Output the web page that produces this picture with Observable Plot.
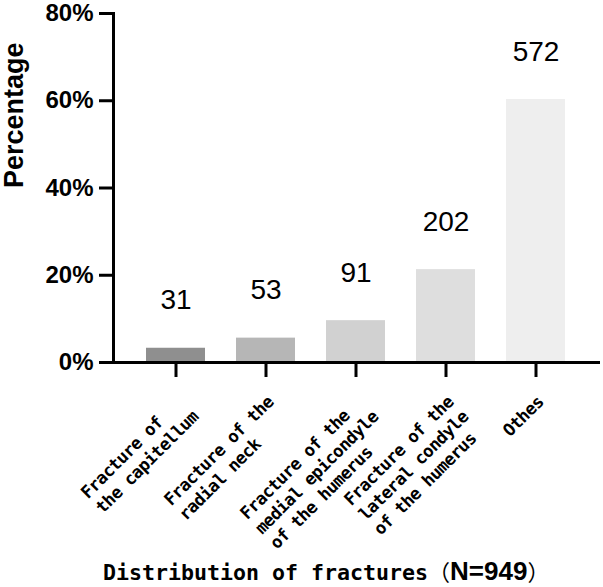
<!DOCTYPE html>
<html>
<head>
<meta charset="utf-8">
<script src="https://cdn.jsdelivr.net/npm/d3@7"></script>
<script src="https://cdn.jsdelivr.net/npm/@observablehq/plot@0.6"></script>
<style>
  body { margin: 0; background: #fff; }
  #chart { position: relative; width: 603px; height: 587px; }
  #chart g[font-family*="Mono"] text { letter-spacing: -0.6px; }
  #xtitle {
    position: absolute; left: 103px; top: 555px; white-space: nowrap;
    font-family: "DejaVu Sans Mono", monospace; font-weight: bold;
    font-size: 21.6px; line-height: 30px; color: #000;
  }
  #xtitle .paren { font-family: "Noto Sans CJK JP", sans-serif; font-weight: normal; font-size: 22px; }
  #xtitle .n { font-family: "Liberation Sans", Arial, sans-serif; font-weight: bold; font-size: 26px; }
</style>
</head>
<body>
<div id="chart">
  <div id="xtitle">Distribution of fractures<span class="paren">（</span><span class="n">N=949</span><span class="paren">）</span></div>
</div>
<script>
// Fracture categories (line breaks as printed under the axis)
const fractureTypes = [
  "Fracture of\nthe capitellum",
  "Fracture of the\nradial neck",
  "Fracture of the\nmedial epicondyle\nof the humerus",
  "Fracture of the\nlateral condyle\nof the humerus",
  "Othes"
];
// Number of cases per category
const counts = [31, 53, 91, 202, 572];
const totalN = 949;
// Percentage axis ticks
const yTicks = [0, 20, 40, 60, 80];
// Grey shades of the bars
const barShades = ["#8f8f8f", "#b6b6b6", "#d1d1d1", "#dedede", "#eeeeee"];

const data = fractureTypes.map((type, i) => ({
  type,
  count: counts[i],
  pct: counts[i] / totalN * 100
}));

// Pad each line with no-break spaces so a monospaced block stays left-aligned
// even when anchored at its end.
const padLines = s => {
  const lines = s.split("\n");
  const w = d3.max(lines, l => l.length);
  return lines.map(l => l + "\u00a0".repeat(w - l.length)).join("\n");
};

const plot = Plot.plot({
  width: 603,
  height: 548,
  marginLeft: 113,
  marginRight: 5,
  marginTop: 13,
  marginBottom: 186,
  style: {
    fontFamily: '"Liberation Sans", Arial, sans-serif',
    color: "#000",
    background: "#fff",
    overflow: "visible"
  },
  x: { domain: fractureTypes, padding: 0.34 },
  y: { domain: [0, 80] },
  color: { domain: fractureTypes, range: barShades },
  marks: [
    Plot.barY(data, { x: "type", y: "pct", fill: "type" }),
    Plot.text(data, {
      x: "type", y: "pct", text: d => String(d.count),
      dy: -48, fontSize: 28, fill: "#000"
    }),
    Plot.axisY({
      ticks: yTicks, tickSize: 14, tickPadding: 6, strokeWidth: 3,
      tickFormat: d => d + "%", fontSize: 24, fontWeight: "bold", label: null
    }),
    Plot.axisX({ tickSize: 15, strokeWidth: 3, tickFormat: () => "", label: null }),
    Plot.frame({ anchor: "left", strokeWidth: 3 }),
    Plot.frame({ anchor: "bottom", strokeWidth: 3 }),
    Plot.text(fractureTypes, {
      x: d => d, frameAnchor: "bottom", text: padLines,
      rotate: -45, textAnchor: "end", lineAnchor: "top",
      dx: -2, dy: 30, lineHeight: 1.22,
      fontFamily: '"DejaVu Sans Mono", monospace', fontSize: 17.2,
      fontWeight: "bold", fill: "#000"
    }),
    Plot.text(["Percentage"], {
      frameAnchor: "left", rotate: -90, dx: -99,
      fontSize: 27, fontWeight: "bold", fill: "#000"
    })
  ]
});

document.getElementById("chart").prepend(plot);
</script>
</body>
</html>
